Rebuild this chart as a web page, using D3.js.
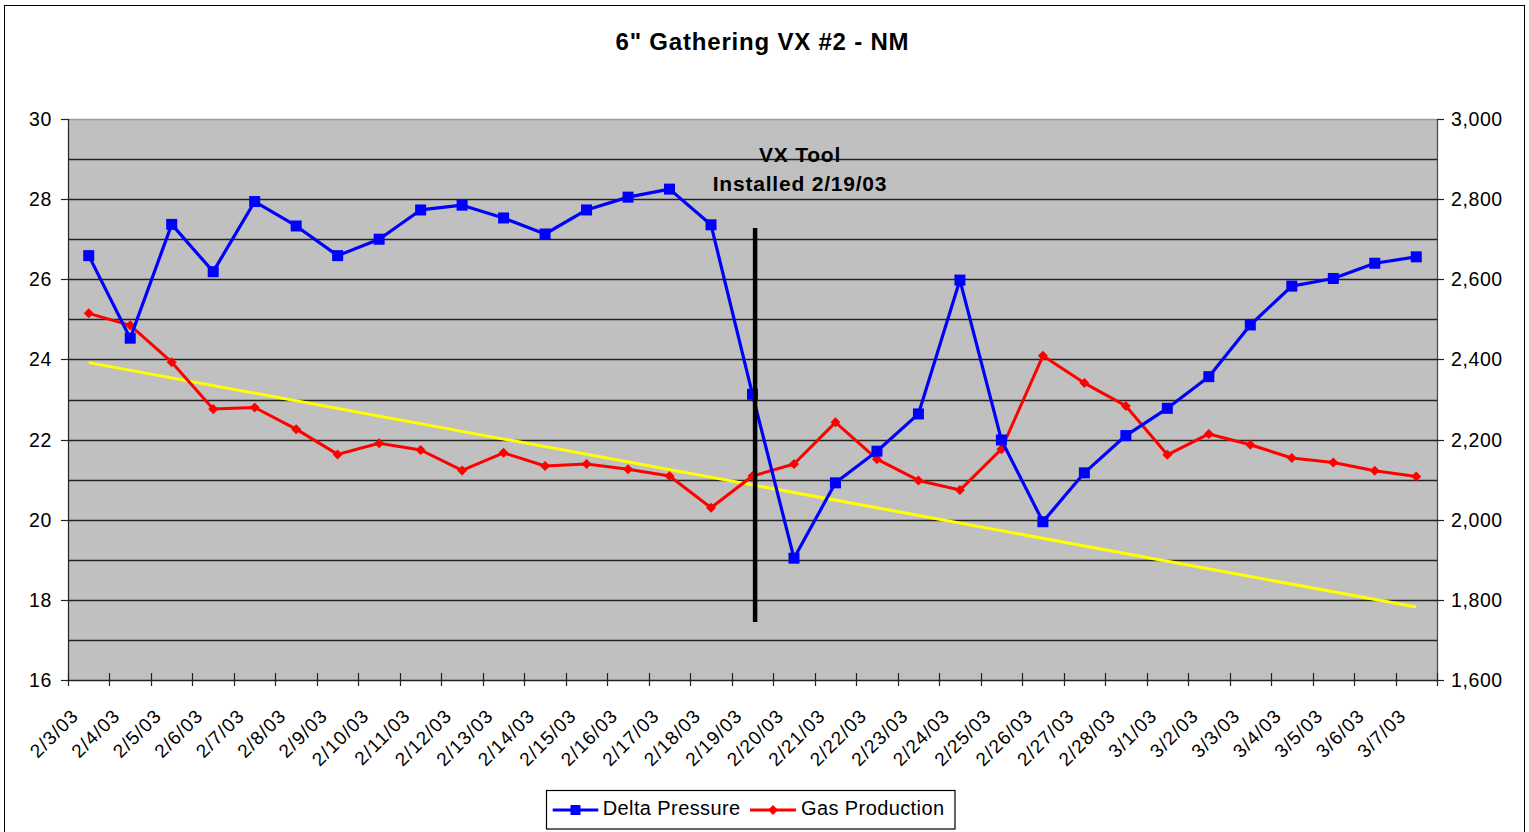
<!DOCTYPE html>
<html>
<head>
<meta charset="utf-8">
<script src="https://cdn.jsdelivr.net/npm/d3@7"></script>
<style>
  html, body { margin: 0; padding: 0; background: #fff; }
  svg { display: block; }
  text { font-family: "Liberation Sans", Arial, sans-serif; fill: #000; }
</style>
</head>
<body>
<svg id="chart" width="1529" height="832"></svg>
<script>
// ---- Data ----
const categories = ["2/3/03","2/4/03","2/5/03","2/6/03","2/7/03","2/8/03","2/9/03","2/10/03","2/11/03","2/12/03","2/13/03","2/14/03","2/15/03","2/16/03","2/17/03","2/18/03","2/19/03","2/20/03","2/21/03","2/22/03","2/23/03","2/24/03","2/25/03","2/26/03","2/27/03","2/28/03","3/1/03","3/2/03","3/3/03","3/4/03","3/5/03","3/6/03","3/7/03"];
const deltaPressure = [26.59,24.53,27.37,26.19,27.94,27.33,26.59,27.0,27.73,27.85,27.53,27.13,27.73,28.05,28.25,27.36,23.13,19.04,20.92,21.71,22.64,25.98,21.99,19.95,21.17,22.10,22.78,23.57,24.86,25.83,26.02,26.40,26.56];
const gasProduction = [2515,2485,2393,2276,2280,2226,2163,2191,2174,2123,2167,2134,2139,2126,2109,2030,2109,2139,2243,2151,2098,2074,2176,2409,2341,2284,2162,2214,2187,2154,2143,2122,2108];
const trendCategories = ["2/3/03","3/7/03"];
const trendValues = [2392,1782];
const leftTicks = [16,18,20,22,24,26,28,30];
const leftGrid = d3.range(16,31,1);
const rightTicks = [1600,1800,2000,2200,2400,2600,2800,3000];
const title = "6\" Gathering VX #2 - NM";
const annotationLines = ["VX Tool","Installed 2/19/03"];
const annotationCategory = "2/19/03";
const annotationRange = [17.45, 27.28];
const seriesNames = ["Delta Pressure","Gas Production"];

// ---- Layout ----
const svg = d3.select("#chart");
const L = 68, R = 1437, T = 119, B = 680;

const x = d3.scaleBand().domain(categories).range([L, R]).padding(0);
const xc = d => x(d) + x.bandwidth() / 2;
const yL = d3.scaleLinear().domain([16, 30]).range([B, T]);
const yR = d3.scaleLinear().domain([1600, 3000]).range([B, T]);

// outer border
svg.append("rect").attr("x", 4.5).attr("y", 5.5).attr("width", 1520).attr("height", 840)
  .attr("fill", "#fff").attr("stroke", "#000").attr("stroke-width", 1);

// title
svg.append("text").attr("x", 762.5).attr("y", 50).attr("text-anchor", "middle")
  .attr("font-size", 24).attr("font-weight", "bold").attr("letter-spacing", 0.8)
  .text(title);

// plot area
svg.append("rect").attr("x", L).attr("y", T).attr("width", R - L).attr("height", B - T)
  .attr("fill", "#C0C0C0");

// gridlines
svg.append("g").selectAll("line").data(leftGrid.filter(v => v > 16)).join("line")
  .attr("x1", L).attr("x2", R)
  .attr("y1", d => Math.round(yL(d)) + 0.5).attr("y2", d => Math.round(yL(d)) + 0.5)
  .attr("stroke", d => d === 30 ? "#9a9a9a" : "#222").attr("stroke-width", 1.3);

// left axis
const gL = svg.append("g");
gL.append("line").attr("x1", L + 0.5).attr("x2", L + 0.5).attr("y1", T).attr("y2", B)
  .attr("stroke", "#222").attr("stroke-width", 1.2);
gL.selectAll("line.t").data(leftTicks).join("line").attr("class", "t")
  .attr("x1", L - 7).attr("x2", L).attr("y1", d => Math.round(yL(d)) + 0.5).attr("y2", d => Math.round(yL(d)) + 0.5)
  .attr("stroke", "#222").attr("stroke-width", 1.2);
gL.selectAll("text").data(leftTicks).join("text")
  .attr("x", 52).attr("y", d => yL(d)).attr("dy", "0.36em").attr("text-anchor", "end")
  .attr("font-size", 19.5).attr("letter-spacing", 0.6)
  .text(d => d);

// right axis
const gR = svg.append("g");
gR.append("line").attr("x1", R + 0.5).attr("x2", R + 0.5).attr("y1", T).attr("y2", B)
  .attr("stroke", "#444").attr("stroke-width", 1.2);
gR.selectAll("line.t").data(rightTicks).join("line").attr("class", "t")
  .attr("x1", R).attr("x2", R + 7).attr("y1", d => Math.round(yR(d)) + 0.5).attr("y2", d => Math.round(yR(d)) + 0.5)
  .attr("stroke", "#222").attr("stroke-width", 1.2);
gR.selectAll("text").data(rightTicks).join("text")
  .attr("x", 1451).attr("y", d => yR(d)).attr("dy", "0.36em").attr("text-anchor", "start")
  .attr("font-size", 19.5).attr("letter-spacing", 0.6)
  .text(d => d3.format(",")(d));

// bottom axis
const gB = svg.append("g");
gB.append("line").attr("x1", L).attr("x2", R).attr("y1", B + 0.5).attr("y2", B + 0.5)
  .attr("stroke", "#222").attr("stroke-width", 1.4);
const boundaries = categories.map(c => x(c)).concat([R]);
gB.selectAll("line.t").data(boundaries).join("line").attr("class", "t")
  .attr("x1", d => Math.round(d) + 0.5).attr("x2", d => Math.round(d) + 0.5)
  .attr("y1", B - 7).attr("y2", B + 6)
  .attr("stroke", "#222").attr("stroke-width", 1.2);
gB.selectAll("text").data(categories).join("text")
  .attr("text-anchor", "end").attr("font-size", 19).attr("letter-spacing", 1.1)
  .attr("transform", d => `translate(${xc(d) - 9},${B + 37}) rotate(-45)`)
  .text(d => d);

// trend line
svg.append("line")
  .attr("x1", xc(trendCategories[0])).attr("y1", yR(trendValues[0]))
  .attr("x2", xc(trendCategories[1])).attr("y2", yR(trendValues[1]))
  .attr("stroke", "#FFFF00").attr("stroke-width", 3);

// gas production (red, right axis)
const lineR = d3.line().x((d, i) => xc(categories[i])).y(d => yR(d));
svg.append("path").datum(gasProduction).attr("d", lineR)
  .attr("fill", "none").attr("stroke", "#FF0000").attr("stroke-width", 3).attr("stroke-linejoin", "round");
svg.append("g").selectAll("path").data(gasProduction).join("path")
  .attr("d", d3.symbol().type(d3.symbolDiamond2).size(64))
  .attr("transform", (d, i) => `translate(${xc(categories[i])},${yR(d)})`)
  .attr("fill", "#FF0000");

// delta pressure (blue, left axis)
const lineL = d3.line().x((d, i) => xc(categories[i])).y(d => yL(d));
svg.append("path").datum(deltaPressure).attr("d", lineL)
  .attr("fill", "none").attr("stroke", "#0000FF").attr("stroke-width", 3.2).attr("stroke-linejoin", "round");
svg.append("g").selectAll("rect").data(deltaPressure).join("rect")
  .attr("x", (d, i) => xc(categories[i]) - 5.5).attr("y", d => yL(d) - 5.5)
  .attr("width", 11).attr("height", 11).attr("fill", "#0000FF");

// annotation vertical line
svg.append("line")
  .attr("x1", xc(annotationCategory) + 2.6).attr("x2", xc(annotationCategory) + 2.6)
  .attr("y1", yL(annotationRange[1])).attr("y2", yL(annotationRange[0]))
  .attr("stroke", "#000").attr("stroke-width", 4.5);

// annotation text
svg.append("g").selectAll("text").data(annotationLines).join("text")
  .attr("x", 800).attr("y", (d, i) => 161.7 + i * 29).attr("text-anchor", "middle")
  .attr("font-size", 21).attr("font-weight", "bold").attr("letter-spacing", 0.8)
  .text(d => d);

// legend
const lg = svg.append("g");
lg.append("rect").attr("x", 546.5).attr("y", 790.5).attr("width", 408.5).attr("height", 38.5)
  .attr("fill", "#fff").attr("stroke", "#000").attr("stroke-width", 1.2);
lg.append("line").attr("x1", 552.7).attr("x2", 598.3).attr("y1", 810).attr("y2", 810)
  .attr("stroke", "#0000FF").attr("stroke-width", 3.2);
lg.append("rect").attr("x", 575.5 - 5).attr("y", 810 - 5).attr("width", 10).attr("height", 10).attr("fill", "#0000FF");
lg.append("text").attr("x", 602.7).attr("y", 814.5).attr("font-size", 20).attr("letter-spacing", 0.4).text(seriesNames[0]);
lg.append("line").attr("x1", 750).attr("x2", 796).attr("y1", 810).attr("y2", 810)
  .attr("stroke", "#FF0000").attr("stroke-width", 3);
lg.append("path").attr("d", d3.symbol().type(d3.symbolDiamond2).size(64)).attr("transform", "translate(773,810)").attr("fill", "#FF0000");
lg.append("text").attr("x", 801).attr("y", 814.5).attr("font-size", 20).attr("letter-spacing", 0.4).text(seriesNames[1]);
</script>
</body>
</html>
